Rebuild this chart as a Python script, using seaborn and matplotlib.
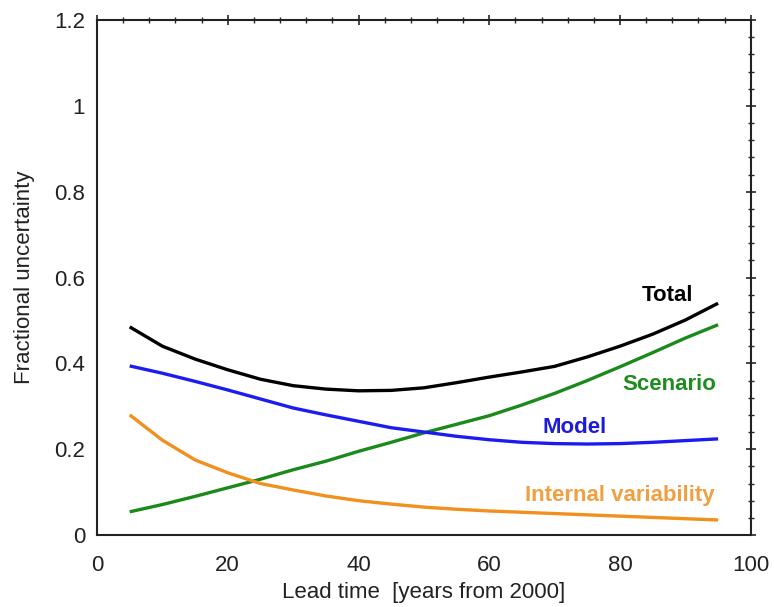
import numpy as np
import pandas as pd
import matplotlib
matplotlib.use("Agg")
import matplotlib.pyplot as plt
import seaborn as sns
from matplotlib.ticker import MultipleLocator

# Lead time (years from 2000)
lead_time = [5, 10, 15, 20, 25, 30, 35, 40, 45, 50, 55, 60, 65, 70, 75, 80, 85, 90, 95]

# Fractional uncertainty
total = [0.485, 0.44, 0.41, 0.385, 0.363, 0.348, 0.34, 0.336, 0.337, 0.343,
         0.355, 0.368, 0.38, 0.393, 0.415, 0.44, 0.468, 0.501, 0.54]
model = [0.394, 0.377, 0.358, 0.338, 0.317, 0.296, 0.28, 0.265, 0.25, 0.24,
         0.23, 0.222, 0.216, 0.213, 0.212, 0.213, 0.216, 0.22, 0.224]
scenario = [0.054, 0.071, 0.09, 0.11, 0.13, 0.152, 0.172, 0.195, 0.216, 0.238,
            0.258, 0.278, 0.303, 0.33, 0.36, 0.392, 0.425, 0.459, 0.49]
internal = [0.28, 0.221, 0.175, 0.145, 0.12, 0.105, 0.091, 0.08, 0.072, 0.065,
            0.06, 0.056, 0.053, 0.05, 0.047, 0.044, 0.041, 0.038, 0.035]

series_names = ["Total", "Scenario", "Model", "Internal variability"]
colors = ["#000000", "#1a8a1a", "#1c1cf0", "#f0901e"]
label_colors = ["#000000", "#1e8c1e", "#1c1cd8", "#f0a040"]
label_pos = [(87.2, 0.557), (87.6, 0.35), (73.1, 0.25), (80.0, 0.093)]

df = pd.DataFrame({
    "lead": lead_time * 4,
    "value": total + scenario + model + internal,
    "series": np.repeat(series_names, len(lead_time)),
})

sns.set_style("white")
plt.rcParams['font.family'] = ['Liberation Sans', 'DejaVu Sans']

fig = plt.figure(figsize=(7.74, 6.07), dpi=100)
ax = fig.add_axes([0.1253, 0.1186, 0.8447, 0.8484])

sns.lineplot(data=df, x="lead", y="value", hue="series", hue_order=series_names,
             palette=colors, linewidth=2.4, legend=False, ax=ax)
for line in ax.lines:
    line.set_solid_joinstyle("round")
    line.set_solid_capstyle("butt")

for name, col, (lx, ly) in zip(series_names, label_colors, label_pos):
    ax.text(lx, ly, name, color=col, fontsize=16, fontweight="bold",
            ha="center", va="center")

ax.set_xlim(0, 100)
ax.set_ylim(0, 1.2)
ax.xaxis.set_major_locator(MultipleLocator(20))
ax.xaxis.set_minor_locator(MultipleLocator(4))
ax.yaxis.set_major_locator(MultipleLocator(0.2))
ax.yaxis.set_minor_locator(MultipleLocator(0.04))
ax.set_yticks([0, 0.2, 0.4, 0.6, 0.8, 1.0, 1.2])
ax.set_yticklabels(["0", "0.2", "0.4", "0.6", "0.8", "1", "1.2"])

ax.tick_params(which="major", direction="inout", length=7, width=1.2,
               labelsize=16, top=True, right=True, pad=5,
               labelcolor="#222222")
ax.tick_params(axis="x", which="major", pad=11)
ax.tick_params(which="minor", direction="inout", length=4, width=1.0,
               top=True, right=True)

for s in ax.spines.values():
    s.set_linewidth(1.5)
    s.set_color("#222222")

ax.set_xlabel("Lead time  [years from 2000]", fontsize=16, labelpad=4,
              color="#222222")
ax.set_ylabel("Fractional uncertainty", fontsize=16, labelpad=14,
              color="#222222")

fig.savefig("out.png", dpi=100)
